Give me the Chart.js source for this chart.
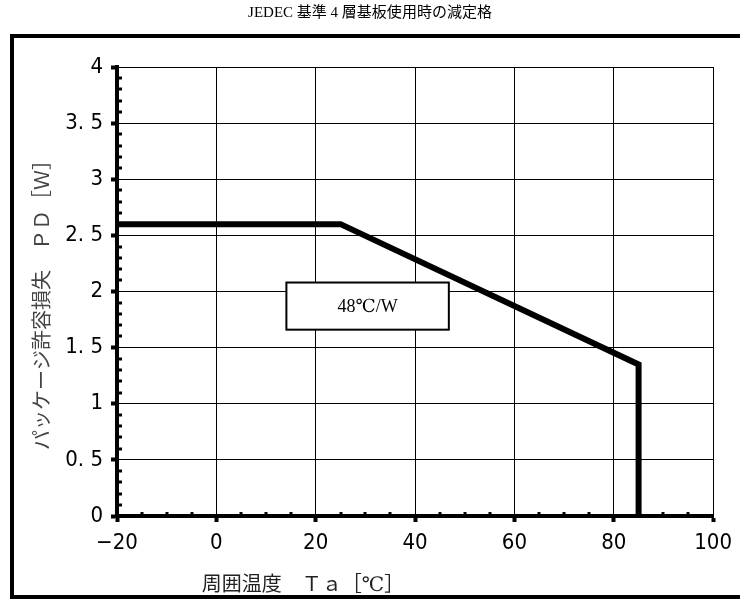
<!DOCTYPE html>
<html>
<head>
<meta charset="utf-8">
<script src="https://cdn.jsdelivr.net/npm/chart.js@4/dist/chart.umd.min.js"></script>
<style>
html,body{margin:0;padding:0;background:#fff;}
canvas{display:block;}
</style>
</head>
<body>
<canvas id="c" width="740" height="599" style="width:740px;height:599px"></canvas>
<script>
const chartTitle = "JEDEC 基準 4 層基板使用時の減定格";
const xTitle = "周囲温度　Ｔａ［℃］";
const yTitle = "パッケージ許容損失　ＰＤ［Ｗ］";
const noteText = "48℃/W";
const temps = [-20, 25, 85, 85];
const powers = [2.6, 2.6, 1.35, 0];
const xTickValues = [-20, 0, 20, 40, 60, 80, 100];
const xTickLabels = ["−20", "0", "20", "40", "60", "80", "100"];
const yTickValues = [0, 0.5, 1, 1.5, 2, 2.5, 3, 3.5, 4];
const yTickLabels = ["0", "0. 5", "1", "1. 5", "2", "2. 5", "3", "3. 5", "4"];
const noteBox = {x0: 14.1, x1: 46.8, y0: 1.66, y1: 2.08};

const tickFont = {family: "'Liberation Sans Narrow', 'DejaVu Sans Condensed', 'Liberation Sans', sans-serif", size: 22};
const serifJP = "'Liberation Serif', 'DejaVu Serif', 'Noto Sans CJK JP', serif";

const decor = {
  id: 'decor',
  beforeDraw(chart) {
    const ctx = chart.ctx;
    ctx.save();
    ctx.fillStyle = '#fff';
    ctx.fillRect(0, 0, chart.width, chart.height);
    ctx.restore();
  },
  afterDraw(chart) {
    const ctx = chart.ctx;
    const xs = chart.scales.x, ys = chart.scales.y;
    const ca = chart.chartArea;
    ctx.save();
    // minor ticks
    ctx.strokeStyle = '#000';
    ctx.lineWidth = 3;
    for (let i = 1; i < 40; i++) {
      if (i % 5 === 0) continue;
      const py = Math.round(ys.getPixelForValue(i / 10));
      ctx.beginPath();
      ctx.moveTo(ca.left, py);
      ctx.lineTo(ca.left + 5, py);
      ctx.stroke();
    }
    for (let v = -15; v < 100; v += 5) {
      if (v % 20 === 0) continue;
      const px = Math.round(xs.getPixelForValue(v));
      ctx.beginPath();
      ctx.moveTo(px, ca.bottom);
      ctx.lineTo(px, ca.bottom - 4);
      ctx.stroke();
    }
    // note box
    const bx0 = xs.getPixelForValue(noteBox.x0), bx1 = xs.getPixelForValue(noteBox.x1);
    const by0 = ys.getPixelForValue(noteBox.y1), by1 = ys.getPixelForValue(noteBox.y0);
    ctx.fillStyle = '#fff';
    ctx.fillRect(bx0, by0, bx1 - bx0, by1 - by0);
    ctx.lineWidth = 2;
    ctx.strokeStyle = '#000';
    ctx.strokeRect(bx0, by0, bx1 - bx0, by1 - by0);
    ctx.fillStyle = '#000';
    ctx.font = "18px " + serifJP;
    ctx.textAlign = 'center';
    ctx.textBaseline = 'middle';
    ctx.fillText(noteText, (bx0 + bx1) / 2, (by0 + by1) / 2 + 1);
    // title
    ctx.font = "15px " + serifJP;
    ctx.fillText(chartTitle, 370, 13);
    // x title
    ctx.font = "20px " + serifJP;
    ctx.fillStyle = '#222';
    ctx.fillText(xTitle, 303, 586);
    // y title
    ctx.save();
    ctx.translate(44, 300);
    ctx.rotate(-Math.PI / 2);
    ctx.font = "20px " + serifJP;
    ctx.fillStyle = '#444';
    ctx.fillText(yTitle, 0, 0);
    ctx.restore();
    // outer frame
    ctx.lineWidth = 4;
    ctx.strokeStyle = '#000';
    ctx.strokeRect(12, 36, 760, 561);
    ctx.restore();
  }
};

new Chart(document.getElementById('c'), {
  type: 'line',
  data: {
    datasets: [{
      data: temps.map((t, i) => ({x: t, y: powers[i]})),
      borderColor: '#000',
      borderWidth: 6,
      pointRadius: 0,
      tension: 0,
      fill: false,
      borderJoinStyle: 'miter',
      clip: false
    }]
  },
  options: {
    responsive: false,
    animation: false,
    devicePixelRatio: 1,
    layout: {padding: {top: 67, right: 26, left: 0, bottom: 0}},
    plugins: {legend: {display: false}, tooltip: {enabled: false}, title: {display: false}},
    scales: {
      x: {
        type: 'linear', min: -20, max: 100,
        afterBuildTicks: s => { s.ticks = xTickValues.map(v => ({value: v})); },
        afterFit: s => { s.height = 83; },
        ticks: {
          callback: v => xTickLabels[xTickValues.indexOf(v)],
          font: tickFont, color: '#000', padding: 8, maxRotation: 0, autoSkip: false
        },
        grid: {color: '#000', lineWidth: 1, tickColor: '#000', tickWidth: 4, tickLength: 6},
        border: {display: true, color: '#000', width: 4}
      },
      y: {
        type: 'linear', min: 0, max: 4,
        afterBuildTicks: s => { s.ticks = yTickValues.map(v => ({value: v})); },
        afterFit: s => { s.width = 117; },
        ticks: {
          callback: v => yTickLabels[yTickValues.indexOf(v)],
          font: tickFont, color: '#000', padding: 8, autoSkip: false
        },
        grid: {color: '#000', lineWidth: 1, tickColor: '#000', tickWidth: 4, tickLength: 6},
        border: {display: true, color: '#000', width: 4}
      }
    }
  },
  plugins: [decor]
});
</script>
</body>
</html>
